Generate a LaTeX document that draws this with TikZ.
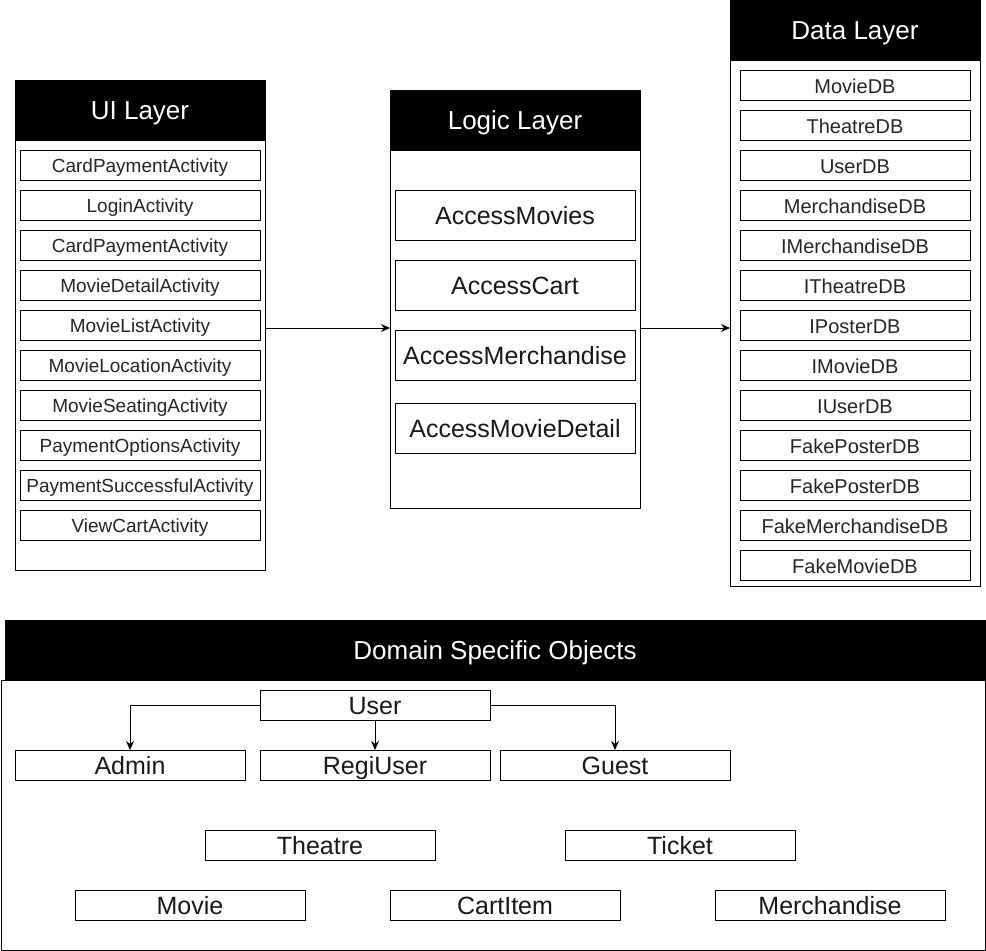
\documentclass[tikz,border=0pt]{standalone}
\usepackage{fontspec}
\setmainfont{Liberation Sans}
\usetikzlibrary{arrows.meta}
\begin{document}
\begin{tikzpicture}[x=1pt,y=-1pt,
  box/.style={draw=black, line width=1pt, inner sep=0pt, outer sep=0pt, fill=white},
  head/.style={fill=black, draw=black, line width=1pt, inner sep=0pt, outer sep=0pt, text=white, text height=25.1pt, text depth=6.5pt, font=\fontsize{26}{30}\selectfont},
  small/.style={box, minimum width=240, minimum height=30, font=\fontsize{19}{23}\selectfont, text=black!85, text height=20.35pt, text depth=4.75pt},
  dbitem/.style={box, minimum width=230, minimum height=30, font=\fontsize{20}{24}\selectfont, text=black!85, text height=21.3pt, text depth=5pt},
  logitem/.style={box, minimum width=240, minimum height=50, font=\fontsize{25}{29}\selectfont, text=black!90, text height=26.15pt, text depth=6.25pt},
  dom/.style={box, minimum width=230, minimum height=30, font=\fontsize{25}{29}\selectfont, text=black!90, text height=24.9pt, text depth=5pt},
  arr/.style={draw=black, line width=1pt, -{Stealth[length=9pt,width=8pt]}}
]
\useasboundingbox (0,0) rectangle (986,951);

% UI Layer
\node[box, minimum width=250, minimum height=490] (ui) at (140,325) {};
\node[head, minimum width=250, minimum height=60] (uih) at (140,110) {UI Layer};
\node[small] (u1) at (140,165) {CardPaymentActivity};
\node[small] (u2) at (140,205) {LoginActivity};
\node[small] (u3) at (140,245) {CardPaymentActivity};
\node[small] (u4) at (140,285) {MovieDetailActivity};
\node[small] (u5) at (140,325) {MovieListActivity};
\node[small] (u6) at (140,365) {MovieLocationActivity};
\node[small] (u7) at (140,405) {MovieSeatingActivity};
\node[small] (u8) at (140,445) {PaymentOptionsActivity};
\node[small] (u9) at (140,485) {PaymentSuccessfulActivity};
\node[small] (u10) at (140,525) {ViewCartActivity};

% Logic Layer
\node[box, minimum width=250, minimum height=418] (logic) at (515,299) {};
\node[head, minimum width=250, minimum height=60] (logich) at (515,120) {Logic Layer};
\node[logitem] (l1) at (515,215) {AccessMovies};
\node[logitem] (l2) at (515,285) {AccessCart};
\node[logitem] (l3) at (515,355) {AccessMerchandise};
\node[logitem] (l4) at (515,428) {AccessMovieDetail};

% Data Layer
\node[box, minimum width=250, minimum height=586] (data) at (855,293.5) {};
\node[head, minimum width=250, minimum height=60] (datah) at (855,30.5) {Data Layer};
\node[dbitem] (d1) at (855,85) {MovieDB};
\node[dbitem] (d2) at (855,125) {TheatreDB};
\node[dbitem] (d3) at (855,165) {UserDB};
\node[dbitem] (d4) at (855,205) {MerchandiseDB};
\node[dbitem] (d5) at (855,245) {IMerchandiseDB};
\node[dbitem] (d6) at (855,285) {ITheatreDB};
\node[dbitem] (d7) at (855,325) {IPosterDB};
\node[dbitem] (d8) at (855,365) {IMovieDB};
\node[dbitem] (d9) at (855,405) {IUserDB};
\node[dbitem] (d10) at (855,445) {FakePosterDB};
\node[dbitem] (d11) at (855,485) {FakePosterDB};
\node[dbitem] (d12) at (855,525) {FakeMerchandiseDB};
\node[dbitem] (d13) at (855,565) {FakeMovieDB};

% layer arrows
\draw[arr] (ui.east |- 0,328) -- (logic.west |- 0,328);
\draw[arr] (logic.east |- 0,328) -- (data.west |- 0,328);

% Domain
\node[box, minimum width=984, minimum height=270] (domain) at (493,815) {};
\node[head, minimum width=980, minimum height=60] (domainh) at (495,650) {Domain Specific Objects};
\node[dom] (user) at (375,705) {User};
\node[dom] (admin) at (130,765) {Admin};
\node[dom] (regi) at (375,765) {RegiUser};
\node[dom] (guest) at (615,765) {Guest};
\node[dom] (theatre) at (320,845) {Theatre};
\node[dom] (ticket) at (680,845) {Ticket};
\node[dom] (movie) at (190,905) {Movie};
\node[dom] (cart) at (505,905) {CartItem};
\node[dom] (merch) at (830,905) {Merchandise};

\draw[arr] (user.west) -| (admin.north);
\draw[arr] (user.south) -- (regi.north);
\draw[arr] (user.east) -| (guest.north);
\end{tikzpicture}
\end{document}
